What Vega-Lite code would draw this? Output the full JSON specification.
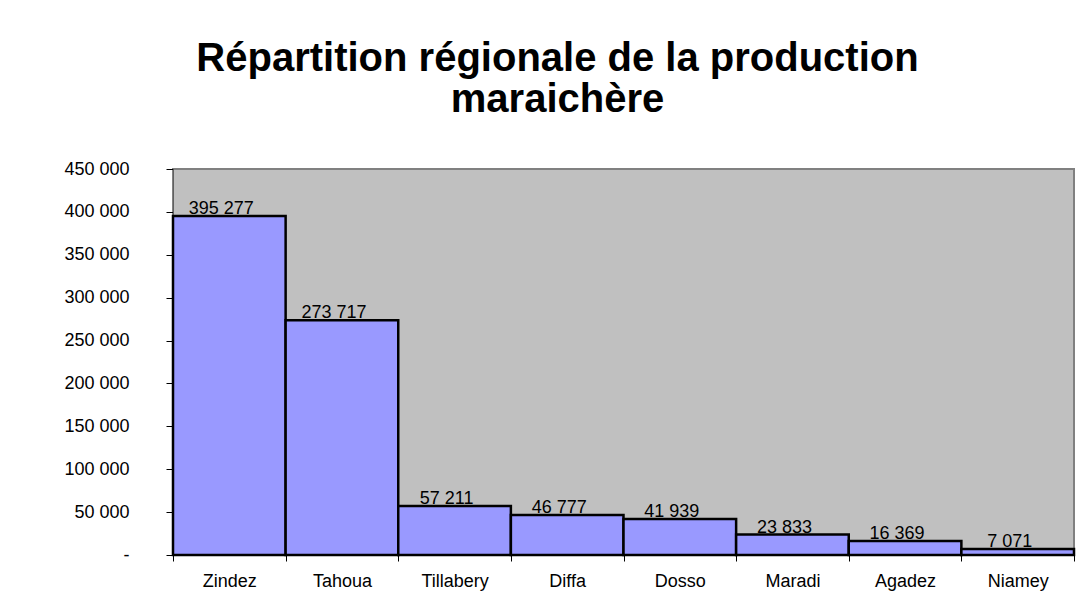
{
  "$schema": "https://vega.github.io/schema/vega-lite/v6.json",
  "width": 901,
  "height": 386,
  "autosize": {"type": "none"},
  "padding": {"left": 173, "top": 169, "right": 16, "bottom": 53},
  "background": "#ffffff",
  "config": {
    "locale": {"number": {"decimal": ",", "thousands": " ", "grouping": [3], "currency": ["", " €"]}},
    "font": "Liberation Sans",
    "view": {"fill": "#C0C0C0", "stroke": "#808080", "strokeWidth": 2}
  },
  "title": {
    "text": ["Répartition régionale de la production", "maraichère"],
    "font": "Liberation Sans",
    "fontSize": 40,
    "fontWeight": "bold",
    "color": "#000000",
    "anchor": "middle",
    "lineHeight": 41,
    "offset": 40,
    "dx": -66
  },
  "data": {
    "values": [
      {"region": "Zindez", "production": 395277},
      {"region": "Tahoua", "production": 273717},
      {"region": "Tillabery", "production": 57211},
      {"region": "Diffa", "production": 46777},
      {"region": "Dosso", "production": 41939},
      {"region": "Maradi", "production": 23833},
      {"region": "Agadez", "production": 16369},
      {"region": "Niamey", "production": 7071}
    ]
  },
  "encoding": {
    "x": {
      "field": "region",
      "type": "nominal",
      "sort": null,
      "scale": {"paddingInner": 0, "paddingOuter": 0},
      "axis": {
        "title": null,
        "labelAngle": 0,
        "labelFontSize": 18,
        "labelColor": "#000000",
        "labelPadding": 11,
        "tickBand": "extent",
        "tickSize": 6,
        "tickColor": "#000000",
        "domainColor": "#000000",
        "domainWidth": 1
      }
    },
    "y": {
      "field": "production",
      "type": "quantitative",
      "scale": {"domain": [0, 450000], "nice": false},
      "axis": {
        "title": null,
        "values": [0, 50000, 100000, 150000, 200000, 250000, 300000, 350000, 400000, 450000],
        "format": ",d",
        "labelExpr": "datum.value == 0 ? '-' : datum.label",
        "labelFontSize": 18,
        "labelColor": "#000000",
        "labelPadding": 37,
        "tickSize": 7,
        "tickColor": "#000000",
        "domainColor": "#606060",
        "grid": false
      }
    }
  },
  "layer": [
    {
      "mark": {"type": "bar", "fill": "#9999FF", "stroke": "#000000", "strokeWidth": 2.5}
    },
    {
      "mark": {"type": "text", "baseline": "bottom", "dy": 2, "dx": -8, "fontSize": 18, "color": "#000000"},
      "encoding": {
        "text": {"field": "production", "type": "quantitative", "format": ",d"}
      }
    }
  ]
}
